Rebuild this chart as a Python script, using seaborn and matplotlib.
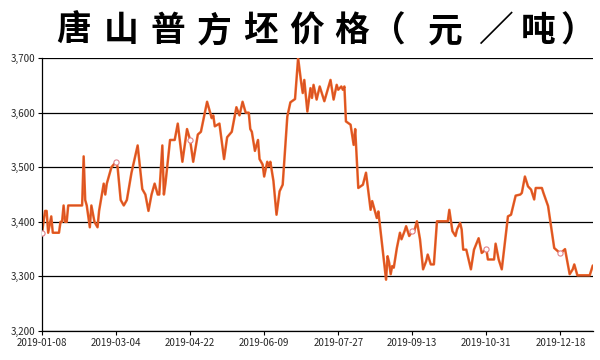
"""
Tangshan billet price line chart.
"""

import pandas as pd
import matplotlib
matplotlib.use("Agg")
import matplotlib.pyplot as plt
import matplotlib.ticker as mticker
import seaborn as sns


# point index (one per reported day) and price at each vertex of the line
day_idx = [0, 2, 3, 4, 6, 7, 11, 12, 13, 14, 15, 16, 17, 26, 27, 28, 29, 31, 32,
           34, 36, 37, 40, 41, 42, 45, 48, 49, 51, 53, 55, 58, 62, 65, 67, 69,
           71, 73, 75, 76, 78, 79, 80, 83, 86, 88, 91, 94, 96, 98, 101, 103,
           107, 109, 110, 111, 112, 115, 118, 120, 123, 126, 128, 130, 132, 134,
           135, 136, 138, 140, 141, 143, 144, 146, 147, 148, 150, 152, 154, 156,
           159, 161, 164, 166, 168, 169, 170, 172, 174, 175, 176, 178, 180, 183,
           187, 189, 191, 192, 194, 195, 196, 197, 200, 202, 203, 205, 208, 210,
           213, 214, 217, 218, 223, 224, 225, 226, 227, 228, 230, 232, 233, 235,
           236, 238, 240, 241, 243, 245, 247, 249, 250, 252, 254, 256, 263, 264,
           266, 268, 269, 271, 272, 273, 275, 278, 280, 283, 285, 288, 289, 293,
           294, 296, 298, 302, 304, 307, 310, 311, 313, 315, 317, 319, 320, 324,
           325, 328, 332, 336, 339, 342, 344, 345, 347, 355, 357]
price = [3380, 3420, 3420, 3380, 3410, 3380, 3380, 3400, 3400, 3430, 3400, 3400,
         3430, 3430, 3520, 3440, 3430, 3390, 3430, 3400, 3390, 3420, 3470, 3450,
         3470, 3500, 3510, 3500, 3440, 3430, 3440, 3490, 3540, 3460, 3450, 3420,
         3450, 3470, 3450, 3450, 3540, 3450, 3470, 3550, 3550, 3580, 3510, 3570,
         3550, 3510, 3560, 3565, 3620, 3600, 3590, 3595, 3575, 3580, 3515, 3555,
         3565, 3610, 3595, 3620, 3600, 3600, 3570, 3565, 3530, 3550, 3515, 3505,
         3483, 3510, 3502, 3510, 3475, 3413, 3456, 3468, 3593, 3619, 3625, 3700,
         3655, 3636, 3660, 3602, 3645, 3627, 3651, 3624, 3648, 3621, 3660, 3624,
         3651, 3642, 3648, 3642, 3648, 3584, 3578, 3541, 3570, 3462, 3468, 3490,
         3422, 3438, 3407, 3419, 3294, 3337, 3325, 3304, 3319, 3316, 3352, 3380,
         3368, 3383, 3392, 3374, 3383, 3380, 3401, 3368, 3313, 3328, 3340, 3322,
         3322, 3401, 3401, 3422, 3383, 3374, 3386, 3398, 3386, 3349, 3349, 3313,
         3349, 3370, 3343, 3350, 3331, 3331, 3360, 3331, 3313, 3410, 3413, 3448,
         3450, 3453, 3483, 3465, 3459, 3441, 3462, 3462, 3453, 3429, 3352, 3342,
         3350, 3304, 3313, 3322, 3302, 3302, 3320]

tick_idx = [0, 48, 96, 144, 192, 240, 288, 336]
tick_labels = ['2019-01-08', '2019-03-04', '2019-04-22', '2019-06-09',
               '2019-07-27', '2019-09-13', '2019-10-31', '2019-12-18']
marker_idx = [0, 48, 96, 240, 288, 336]

TITLE = '唐山普方坯价格（元／吨）'
# horizontal centre of each title character cell, in pixels (spaced out like the original;
# full-width brackets sit off-centre in their cells, hence the shifts)
title_x = [74, 121, 168, 214, 260, 307, 352, 388, 445, 495, 538, 578]

sns.set_style("white")
plt.rcParams['font.family'] = ['Noto Sans CJK SC', 'DejaVu Sans']

df = pd.DataFrame({'idx': day_idx, 'price': price})

fig = plt.figure(figsize=(6, 3.6), dpi=100)
ax = fig.add_axes([0.07, 0.0806, 0.918, 0.758])

sns.lineplot(data=df, x='idx', y='price', ax=ax, color='#EC6424',
             linewidth=1.8, sort=False)
sns.lineplot(data=df, x='idx', y='price', ax=ax, color='#B9382A',
             linewidth=0.5, alpha=0.6, sort=False)
mk = df[df['idx'].isin(marker_idx)]
ax.scatter(mk['idx'], mk['price'], s=14, facecolor='white',
           edgecolor='#E0808A', linewidth=0.8, zorder=5)

ax.set_xlim(0, 357)
ax.set_ylim(3200, 3700)
ax.set_yticks(range(3200, 3701, 100))
ax.yaxis.set_major_formatter(mticker.StrMethodFormatter('{x:,.0f}'))
ax.set_xticks(tick_idx)
ax.set_xticklabels(tick_labels)
ax.tick_params(axis='both', labelsize=7, length=3, width=0.8, color='black',
               direction='out', pad=2, left=True, bottom=True)
ax.yaxis.grid(True, color='black', linewidth=0.9)
ax.set_axisbelow(True)
for s in ['top', 'right']:
    ax.spines[s].set_visible(False)
for s in ['left', 'bottom']:
    ax.spines[s].set_color('black')
    ax.spines[s].set_linewidth(0.9)
ax.set_xlabel('')
ax.set_ylabel('')

for ch, px in zip(TITLE, title_x):
    fig.text(px / 600, 0.915, ch, ha='center', va='center', fontsize=25,
             fontweight='bold', color='black')

fig.savefig('out.png', dpi=100)
